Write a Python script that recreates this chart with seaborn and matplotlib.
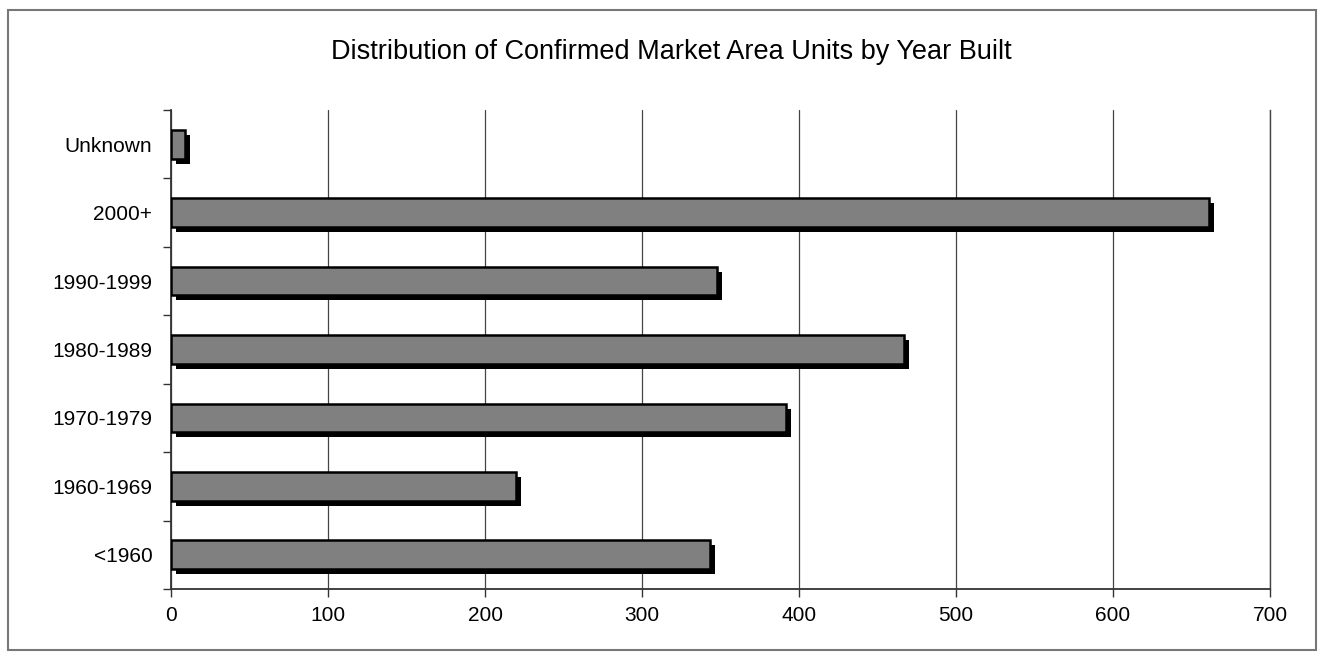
import numpy as np
import pandas as pd
import seaborn as sns
import matplotlib.pyplot as plt
from matplotlib.patches import Rectangle
from matplotlib.transforms import ScaledTranslation

categories = ["Unknown", "2000+", "1990-1999", "1980-1989", "1970-1979", "1960-1969", "<1960"]
units = [9, 661, 348, 467, 392, 220, 343]
x_ticks = [0, 100, 200, 300, 400, 500, 600, 700]

df = pd.DataFrame({"year_built": categories, "units": units})

sns.set_style("white")
plt.rcParams["font.family"] = ["Liberation Sans", "DejaVu Sans"]
plt.rcParams["text.color"] = "black"
plt.rcParams["xtick.labelcolor"] = "black"
plt.rcParams["ytick.labelcolor"] = "black"

fig = plt.figure(figsize=(13.24, 6.6), dpi=100)
ax = fig.add_axes([0.1292, 0.1076, 0.8300, 0.7257])

sns.barplot(
    data=df, x="units", y="year_built", order=categories, orient="h",
    color="#808080", saturation=1, width=0.42,
    edgecolor="black", linewidth=1.8, ax=ax, zorder=3,
)

# drop shadow behind each bar
shift = ScaledTranslation(5 / 100, -5 / 100, fig.dpi_scale_trans)
for bar in list(ax.patches):
    shadow = Rectangle(
        bar.get_xy(), bar.get_width(), bar.get_height(),
        facecolor="black", edgecolor="none",
        transform=ax.transData + shift, zorder=2,
    )
    ax.add_patch(shadow)

ax.set_xlim(0, 700)
ax.set_ylim(len(categories) - 0.5, -0.5)
ax.set_xticks(x_ticks)
ax.set_xticklabels([str(t) for t in x_ticks], fontsize=15)
ax.set_yticks(range(len(categories)))
ax.set_yticklabels(categories, fontsize=15)
ax.set_yticks(np.arange(-0.5, len(categories), 1), minor=True)
ax.tick_params(axis="y", which="major", length=0, pad=13.5)
ax.tick_params(axis="y", which="minor", length=6, width=1, color="#333", left=True)
ax.tick_params(axis="x", which="major", length=6, width=1, color="#333", bottom=True, pad=6)
ax.set_xlabel("")
ax.set_ylabel("")

ax.grid(axis="x", color="#444", lw=0.9, zorder=1)
ax.set_axisbelow(True)
ax.spines["top"].set_visible(False)
ax.spines["right"].set_color("#444")
ax.spines["right"].set_linewidth(1.0)
for side in ["left", "bottom"]:
    ax.spines[side].set_color("#333")
    ax.spines[side].set_linewidth(1.3)

fig.text(0.507, 0.921, "Distribution of Confirmed Market Area Units by Year Built",
         ha="center", va="center", fontsize=19.5, color="black")

fig.patches.append(Rectangle((0.006, 0.015), 0.988, 0.970, transform=fig.transFigure,
                             fill=False, edgecolor="#777", lw=1.5))

fig.savefig("out.png", dpi=100)
